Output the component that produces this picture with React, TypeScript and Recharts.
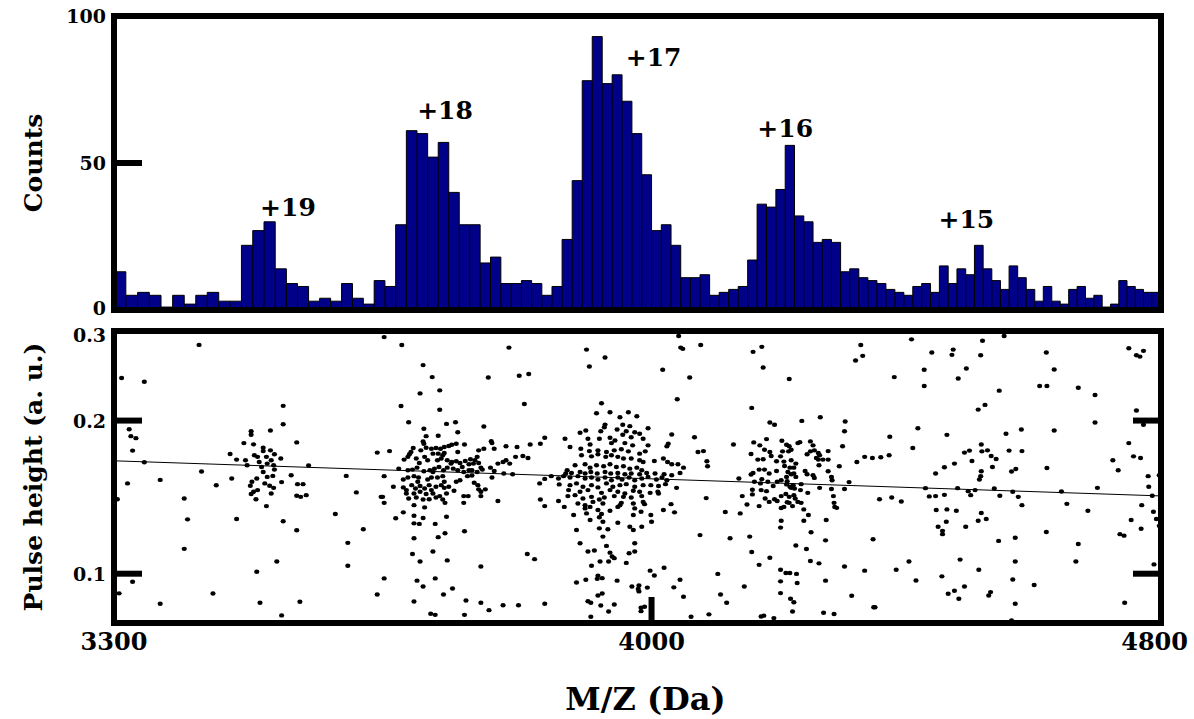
import { ComposedChart, Scatter, Line, Area, XAxis, YAxis, ReferenceArea, ReferenceDot, ReferenceLine } from "recharts"

const FONT = "'DejaVu Serif', serif"
const NAVY = "#000088"

// histogram: 14 Da bins starting at 3300
const BIN_START = 3300
const BIN_WIDTH = 14
const counts = [
  13, 5, 6, 5, 1, 5, 2, 5, 6, 3, 3, 22, 27, 30, 14, 9, 8, 3, 4, 3,
  9, 4, 2, 10, 8, 29, 61, 60, 52, 57, 40, 29, 29, 16, 18, 9, 9, 10, 9, 5,
  8, 24, 44, 78, 93, 77, 80, 71, 60, 46, 27, 29, 22, 11, 11, 12, 5, 6, 7, 8,
  17, 36, 35, 41, 56, 32, 30, 23, 24, 23, 13, 14, 11, 10, 9, 7, 6, 5, 8, 9,
  6, 15, 9, 14, 12, 22, 14, 10, 7, 15, 11, 7, 3, 8, 3, 2, 7, 8, 4, 5,
  1, 2, 10, 8, 7, 6, 6, 8,
]

const peakNames = ["+19", "+18", "+17", "+16", "+15"]
const peakNameMz = [3512, 3715, 4003, 4196, 4477]
const peakNameCount = [35, 68, 86, 62, 31]

const mzTicks = [3300, 4000, 4800]
const countTicks = [0, 50, 100]
const pulseTicks = [0.1, 0.2, 0.3]

// straight fit through the pulse heights
const fitEnds: [number, number][] = [[3300, 0.1667], [4800, 0.1422]]

// single hits: [m/z, pulse height]
const hitsBelow3640: [number, number][] = [
  [3402,0.2817],[3309,0.2425],[3336,0.2384],[3506,0.2138],[3506,0.1967],[3318,0.1923],[3320,0.1864],[3326,0.1847],[3322,0.1746],[3336,0.1656],
  [3466,0.1906],[3466,0.1876],[3490,0.1912],[3457,0.1806],[3469,0.1796],[3523,0.1812],[3440,0.1719],[3448,0.1676],[3459,0.1671],[3481,0.1769],
  [3481,0.1742],[3490,0.1748],[3495,0.1717],[3470,0.1710],[3474,0.1697],[3503,0.1684],[3485,0.1697],[3491,0.1671],[3476,0.1658],[3486,0.1646],
  [3494,0.1634],[3461,0.1634],[3479,0.1621],[3495,0.1602],[3481,0.1585],[3493,0.1557],[3486,0.1550],[3516,0.1562],[3538,0.1632],[3405,0.1588],
  [3355,0.1529],[3316,0.1505],[3423,0.1492],[3442,0.1539],[3467,0.1516],[3473,0.1539],[3465,0.1489],[3483,0.1505],[3489,0.1489],[3494,0.1475],
  [3504,0.1514],[3524,0.1500],[3531,0.1500],[3474,0.1460],[3469,0.1449],[3466,0.1434],[3472,0.1401],[3491,0.1438],[3523,0.1423],[3528,0.1416],
  [3535,0.1427],[3485,0.1358],[3384,0.1406],[3304,0.1401],[3388,0.1279],[3448,0.1281],[3506,0.1268],[3523,0.1217],[3384,0.1119],[3498,0.1057],
  [3473,0.1009],[3322,0.0964],[3306,0.0915],[3419,0.0914],[3477,0.0877],[3527,0.0881],[3355,0.0873],[3504,0.0828],[3572,0.1310],[3586,0.1557],
  [3599,0.1445],[3608,0.1223],[3588,0.1150],[3588,0.1037],[3626,0.1730],[3631,0.1416],[3626,0.0910],
]

const hitsPeak18: [number, number][] = [
  [3635,0.2918],[3658,0.2816],[3686,0.2571],[3698,0.2435],[3708,0.2293],[3801,0.2783],[3773,0.2431],[3815,0.2450],[3828,0.2469],
  [3682,0.2262],[3657,0.2137],[3708,0.2100],[3822,0.2156],[3667,0.1985],[3687,0.1927],[3717,0.1970],[3729,0.1985],[3732,0.1897],[3767,0.1947],
  [3690,0.1864],[3706,0.1867],[3686,0.1820],[3687,0.1801],[3642,0.1742],[3673,0.1766],[3670,0.1735],[3668,0.1717],[3683,0.1748],[3690,0.1769],
  [3697,0.1761],[3703,0.1766],[3709,0.1761],[3714,0.1774],[3720,0.1782],[3724,0.1793],[3730,0.1801],[3741,0.1795],[3732,0.1735],[3760,0.1748],
  [3767,0.1761],[3777,0.1822],[3778,0.1806],[3797,0.1780],[3812,0.1774],[3830,0.1795],[3844,0.1801],[3850,0.1850],[3781,0.1761],[3661,0.1676],
  [3666,0.1697],[3677,0.1684],[3688,0.1697],[3692,0.1671],[3681,0.1651],[3699,0.1722],[3706,0.1722],[3712,0.1709],[3714,0.1727],[3705,0.1671],
  [3710,0.1684],[3718,0.1671],[3724,0.1658],[3730,0.1664],[3735,0.1651],[3742,0.1666],[3749,0.1679],[3755,0.1671],[3747,0.1641],[3753,0.1646],
  [3758,0.1697],[3760,0.1651],[3763,0.1616],[3786,0.1646],[3793,0.1658],[3797,0.1671],[3802,0.1646],[3810,0.1697],[3820,0.1704],[3827,0.1688],
  [3776,0.1616],[3781,0.1592],[3654,0.1609],[3666,0.1597],[3672,0.1602],[3678,0.1616],[3687,0.1590],[3695,0.1597],[3699,0.1585],[3701,0.1609],
  [3707,0.1621],[3713,0.1597],[3718,0.1616],[3723,0.1646],[3726,0.1609],[3732,0.1597],[3738,0.1621],[3740,0.1585],[3747,0.1597],[3751,0.1597],
  [3758,0.1585],[3765,0.1602],[3794,0.1574],[3806,0.1569],[3635,0.1555],[3660,0.1532],[3666,0.1546],[3674,0.1555],[3680,0.1546],[3679,0.1516],
  [3692,0.1532],[3697,0.1546],[3705,0.1546],[3712,0.1555],[3714,0.1516],[3730,0.1516],[3735,0.1527],[3778,0.1546],[3745,0.1555],[3751,0.1560],
  [3850,0.1536],[3843,0.1505],[3647,0.1482],[3660,0.1478],[3664,0.1460],[3671,0.1493],[3676,0.1471],[3682,0.1487],[3688,0.1471],[3694,0.1493],
  [3697,0.1460],[3703,0.1482],[3710,0.1493],[3714,0.1475],[3720,0.1482],[3727,0.1456],[3754,0.1509],[3759,0.1493],[3760,0.1465],[3763,0.1449],
  [3769,0.1465],[3664,0.1438],[3674,0.1438],[3682,0.1449],[3690,0.1434],[3699,0.1438],[3708,0.1421],[3717,0.1438],[3740,0.1421],[3746,0.1421],
  [3633,0.1416],[3635,0.1378],[3667,0.1406],[3677,0.1412],[3686,0.1399],[3694,0.1401],[3703,0.1412],[3712,0.1399],[3715,0.1378],[3740,0.1378],
  [3763,0.1421],[3786,0.1390],[3844,0.1399],[3850,0.1358],[3674,0.1364],[3688,0.1350],[3660,0.1320],[3650,0.1285],[3674,0.1300],[3686,0.1287],
  [3674,0.1256],[3681,0.1253],[3702,0.1253],[3717,0.1294],[3674,0.1174],[3706,0.1180],[3715,0.1201],[3741,0.1212],
  [3672,0.1093],[3682,0.1057],[3699,0.1106],[3718,0.1062],[3763,0.1033],[3826,0.1093],[3836,0.1068],[3635,0.0979],[3678,0.0969],[3686,0.0944],
  [3702,0.0979],[3725,0.0935],[3713,0.0910],[3674,0.0882],[3743,0.0886],[3763,0.0877],[3774,0.0848],[3793,0.0867],[3814,0.0867],[3850,0.0873],
  [3696,0.0834],[3702,0.0830],[3741,0.0830],
]

const hitsPeak17: [number, number][] = [
  [3908,0.2758],[3934,0.2661],[3912,0.2555],[4039,0.2932],[4042,0.2783],[4045,0.2767],[4071,0.2816],[4016,0.2517],[4055,0.2431],
  [4037,0.2202],[3929,0.2163],[3922,0.2068],[3941,0.2077],[3955,0.2031],[3967,0.2077],[3979,0.2040],[3934,0.1964],[3933,0.1941],[3959,0.1962],
  [3969,0.1950],[3995,0.1932],[3899,0.1893],[3907,0.1912],[3928,0.1906],[3951,0.1921],[3964,0.1906],[3976,0.1897],[3959,0.1876],[3971,0.1855],
  [3983,0.1884],[3988,0.1842],[4029,0.1878],[3910,0.1842],[3926,0.1842],[3941,0.1850],[3878,0.1842],[3913,0.1795],[3943,0.1806],[3948,0.1828],
  [3962,0.1806],[3973,0.1788],[3995,0.1788],[4024,0.1801],[4022,0.1780],[4062,0.1855],[3885,0.1774],[3900,0.1761],[3912,0.1742],[3924,0.1748],
  [3936,0.1735],[3947,0.1748],[3957,0.1756],[3967,0.1740],[3983,0.1722],[3991,0.1740],[4067,0.1735],[3901,0.1709],[3915,0.1701],[3924,0.1717],
  [3935,0.1697],[3943,0.1709],[3952,0.1697],[3960,0.1684],[3971,0.1684],[3983,0.1671],[3988,0.1658],[4004,0.1666],[4017,0.1684],[4023,0.1658],
  [4029,0.1641],[4038,0.1641],[4046,0.1616],[3892,0.1634],[3906,0.1641],[3913,0.1616],[3922,0.1634],[3932,0.1626],[3941,0.1641],[3950,0.1621],
  [3960,0.1626],[3969,0.1609],[3979,0.1616],[3986,0.1597],[3881,0.1597],[3879,0.1574],[3887,0.1578],[3899,0.1585],[3906,0.1574],[3914,0.1585],
  [3923,0.1574],[3934,0.1585],[3942,0.1574],[3952,0.1578],[3962,0.1569],[3971,0.1574],[3983,0.1569],[3993,0.1578],[4005,0.1574],[4018,0.1569],
  [4029,0.1562],[4041,0.1578],[3859,0.1555],[3869,0.1539],[3876,0.1555],[3885,0.1546],[3896,0.1555],[3906,0.1539],[3915,0.1546],[3924,0.1532],
  [3934,0.1546],[3943,0.1527],[3952,0.1546],[3958,0.1532],[3968,0.1546],[3976,0.1527],[3986,0.1539],[3995,0.1550],[4007,0.1532],[4015,0.1546],
  [4022,0.1527],[3870,0.1498],[3885,0.1493],[3894,0.1505],[3903,0.1482],[3915,0.1493],[3924,0.1478],[3936,0.1505],[3945,0.1482],[3955,0.1493],
  [3964,0.1500],[3976,0.1482],[3988,0.1493],[3999,0.1493],[4010,0.1487],[4020,0.1500],[4036,0.1475],[3883,0.1460],[3899,0.1449],[3910,0.1460],
  [3929,0.1442],[3941,0.1460],[3952,0.1449],[3962,0.1438],[3974,0.1456],[3983,0.1449],[3998,0.1442],[4009,0.1449],[3882,0.1421],[3892,0.1427],
  [3903,0.1406],[3915,0.1416],[3926,0.1399],[3933,0.1412],[3947,0.1421],[3960,0.1416],[3971,0.1412],[3986,0.1421],[4010,0.1438],[3869,0.1390],
  [3896,0.1374],[3906,0.1364],[3917,0.1384],[3931,0.1374],[3957,0.1378],[3974,0.1374],[3988,0.1384],[3877,0.1353],[3906,0.1344],[3913,0.1353],
  [3924,0.1334],[3952,0.1353],[3976,0.1344],[3990,0.1370],[4028,0.1370],[3890,0.1304],[3908,0.1314],[3929,0.1310],[3941,0.1330],[3955,0.1364],
  [3913,0.1275],[3926,0.1291],[3931,0.1265],[3974,0.1304],[3985,0.1324],[3999,0.1304],[4017,0.1334],[4033,0.1320],[3894,0.1219],[3926,0.1228],
  [3938,0.1223],[3952,0.1259],[3969,0.1237],[3974,0.1219],[3986,0.1237],[4000,0.1265],[3899,0.1148],[3936,0.1134],[3931,0.1183],[3976,0.1148],
  [4070,0.1191],
  [3910,0.1106],[3919,0.1111],[3941,0.1100],[3944,0.1081],[3947,0.1073],[3968,0.1097],[3976,0.1106],[3927,0.1057],[3939,0.1057],[3964,0.1050],
  [3915,0.1037],[3998,0.1014],[4004,0.0992],[4018,0.1027],[3894,0.0961],[3907,0.0973],[3924,0.0991],[3923,0.0977],[3930,0.0980],[3951,0.0969],
  [3972,0.0944],[3982,0.0948],[3981,0.0933],[3982,0.0923],[3994,0.0939],[4041,0.0973],[4032,0.0940],[4046,0.0901],[3924,0.0906],[3930,0.0914],
  [3910,0.0883],[3914,0.0877],[3928,0.0866],[3947,0.0870],[3939,0.0843],[3985,0.0857],[3990,0.0861],[3985,0.0844],[3914,0.0823],[4057,0.0823],
  [4083,0.0832],
]

const hitsPeak16: [number, number][] = [
  [4148,0.2730],[4161,0.2792],[4163,0.2543],[4202,0.2414],[4311,0.2816],[4314,0.2681],[4303,0.2625],[4363,0.2435],
  [4146,0.2118],[4173,0.1982],[4180,0.1962],[4221,0.1997],[4249,0.2031],[4287,0.1991],[4286,0.1906],[4283,0.1780],[4119,0.1795],[4075,0.1742],
  [4080,0.1664],[4081,0.1626],[4149,0.1812],[4158,0.1788],[4168,0.1839],[4165,0.1753],[4173,0.1735],[4175,0.1704],[4145,0.1719],[4155,0.1676],
  [4163,0.1679],[4191,0.1826],[4198,0.1793],[4202,0.1780],[4205,0.1753],[4201,0.1740],[4192,0.1740],[4189,0.1701],[4183,0.1664],[4194,0.1661],
  [4215,0.1806],[4218,0.1814],[4234,0.1820],[4238,0.1788],[4240,0.1748],[4234,0.1740],[4229,0.1717],[4246,0.1727],[4248,0.1709],[4243,0.1688],
  [4246,0.1676],[4261,0.1742],[4253,0.1676],[4261,0.1676],[4205,0.1671],[4212,0.1646],[4203,0.1616],[4209,0.1616],[4195,0.1628],[4165,0.1602],
  [4157,0.1602],[4148,0.1578],[4145,0.1567],[4172,0.1574],[4183,0.1592],[4200,0.1585],[4205,0.1569],[4198,0.1550],[4209,0.1574],[4212,0.1550],
  [4226,0.1592],[4229,0.1569],[4238,0.1562],[4240,0.1543],[4247,0.1634],[4261,0.1590],[4266,0.1550],[4267,0.1527],[4278,0.1626],[4293,0.1514],
  [4127,0.1539],[4150,0.1516],[4161,0.1534],[4159,0.1505],[4170,0.1516],[4178,0.1487],[4184,0.1516],[4190,0.1527],[4199,0.1520],[4198,0.1498],
  [4203,0.1482],[4208,0.1493],[4205,0.1475],[4210,0.1471],[4220,0.1500],[4219,0.1460],[4230,0.1442],[4248,0.1475],[4266,0.1467],[4286,0.1467],
  [4147,0.1462],[4147,0.1432],[4160,0.1460],[4168,0.1453],[4132,0.1421],[4079,0.1408],[4166,0.1406],[4172,0.1384],[4180,0.1401],[4184,0.1390],
  [4190,0.1421],[4197,0.1434],[4202,0.1416],[4209,0.1427],[4211,0.1406],[4199,0.1382],[4202,0.1378],[4194,0.1353],[4190,0.1346],[4207,0.1358],
  [4215,0.1384],[4220,0.1378],[4224,0.1338],[4231,0.1304],[4269,0.1421],[4270,0.1378],[4271,0.1353],[4274,0.1347],[4139,0.1368],[4157,0.1358],
  [4107,0.1322],[4129,0.1314],[4190,0.1271],[4189,0.1232],[4224,0.1271],[4258,0.1275],[4235,0.1206],[4114,0.1174],[4143,0.1183],[4212,0.1136],
  [4228,0.1118],[4257,0.1163],[4330,0.1169],[4340,0.1401],[4305,0.1658],[4317,0.1697],[4329,0.1688],[4342,0.1694],
  [4096,0.0999],[4135,0.0944],[4100,0.0910],[4109,0.0877],[4146,0.1103],[4157,0.1041],[4173,0.1075],[4189,0.1018],[4197,0.1003],[4203,0.1003],
  [4213,0.0999],[4189,0.0966],[4214,0.0959],[4257,0.0969],[4286,0.1033],[4317,0.1014],[4189,0.0916],[4204,0.0893],[4209,0.0879],[4207,0.0843],
  [4254,0.0838],[4270,0.0833],[4297,0.0905],[4331,0.0859],[4333,0.0859],[4160,0.0824],[4164,0.0827],[4179,0.0818],[4234,0.1059],[4247,0.1048],
]

const hitsAbove4350: [number, number][] = [
  [4390,0.2889],[4422,0.2721],[4456,0.2758],[4454,0.2693],[4503,0.2871],[4500,0.2689],[4538,0.2932],[4410,0.2517],[4410,0.2339],[4477,0.2532],
  [4464,0.2420],[4530,0.2290],[4496,0.2102],[4507,0.2147],[4607,0.2721],[4620,0.2520],[4596,0.2339],[4608,0.2339],[4660,0.2321],[4688,0.2245],
  [4745,0.2775],[4758,0.2689],[4764,0.2672],[4770,0.2742],[4758,0.2093],[4770,0.1962],[4688,0.1982],[4620,0.1912],[4566,0.1921],[4541,0.1884],
  [4446,0.1875],[4400,0.1932],[4356,0.1859],[4355,0.1709],[4392,0.1766],[4474,0.1730],[4482,0.1746],[4501,0.1795],[4502,0.1740],[4511,0.1748],
  [4486,0.1666],[4517,0.1704],[4525,0.1681],[4546,0.1746],[4567,0.1742],[4442,0.1619],[4458,0.1646],[4428,0.1574],[4501,0.1590],[4500,0.1555],
  [4498,0.1532],[4519,0.1621],[4550,0.1588],[4557,0.1606],[4608,0.1614],[4718,0.1671],[4727,0.1597],[4745,0.1806],[4753,0.1701],[4765,0.1688],
  [4778,0.1555],[4797,0.1562],[4779,0.1482],[4692,0.1475],[4632,0.1451],[4412,0.1473],[4463,0.1473],[4480,0.1453],[4484,0.1427],[4491,0.1460],
  [4522,0.1471],[4552,0.1449],[4561,0.1416],[4531,0.1423],[4418,0.1419],[4428,0.1421],[4442,0.1429],[4359,0.1412],[4374,0.1387],[4567,0.1364],
  [4641,0.1372],[4676,0.1330],[4767,0.1364],[4785,0.1423],[4787,0.1324],[4792,0.1281],[4797,0.1242],[4749,0.1275],[4766,0.1226],[4429,0.1334],
  [4446,0.1338],[4461,0.1330],[4501,0.1316],[4496,0.1271],[4509,0.1281],[4445,0.1265],[4432,0.1237],[4439,0.1214],[4439,0.1196],[4476,0.1237],
  [4529,0.1160],[4556,0.1177],[4607,0.1208],[4660,0.1144],[4730,0.1196],[4737,0.1188],[4467,0.1066],[4497,0.1018],[4556,0.1057],[4656,0.1057],
  [4386,0.1057],[4366,0.1018],[4397,0.0970],[4438,0.0988],[4552,0.0974],[4587,0.0950],[4474,0.0944],[4458,0.0926],[4448,0.0913],[4465,0.0893],
  [4516,0.0920],[4513,0.0906],[4556,0.0873],[4788,0.1043],[4738,0.0877],[4550,0.0809],
]

// step outline: each bin edge carries the count of the bin that starts there
const binEdges = counts.map((_, i) => BIN_START + i * BIN_WIDTH)
const histData = [
  ...counts.map((c, i) => ({ mz: binEdges[i], count: c })),
  { mz: BIN_START + counts.length * BIN_WIDTH, count: counts[counts.length - 1] },
]

const hits = [...hitsBelow3640, ...hitsPeak18, ...hitsPeak17, ...hitsPeak16, ...hitsAbove4350].map(([mz, ph]) => ({ mz, ph }))
const fitData = fitEnds.map(([mz, ph]) => ({ mz, ph }))

const textStyle = { fontFamily: FONT, fontWeight: "bold" as const, fill: "#000" }

// labels sitting on the frame corners are nudged apart a little
function makeLeftTick(marked: number[], fmt: (v: number) => string, nudge: Record<string, number> = {}) {
  return function LeftTick(props: any) {
    const { x, y, payload } = props
    const v = payload.value
    const dy = nudge[String(v)] ?? 0
    return (
      <g>
        <text x={x - 8} y={y + dy} textAnchor="end" dominantBaseline="central" fontSize={19} {...textStyle}>{fmt(v)}</text>
        {marked.includes(v) && <line x1={x} x2={x + 28} y1={y} y2={y} stroke="#000" strokeWidth={6} />}
      </g>
    )
  }
}

function makeRightTick(marked: number[]) {
  return function RightTick(props: any) {
    const { x, y, payload } = props
    if (!marked.includes(payload.value)) return <g />
    return <line x1={x - 28} x2={x} y1={y} y2={y} stroke="#000" strokeWidth={6} />
  }
}

function MzTick(props: any) {
  const { x, y, payload } = props
  const v = payload.value
  const last = v === mzTicks[mzTicks.length - 1]
  return (
    <g>
      <text x={last ? x + 27 : x} y={y + 18} textAnchor={last ? "end" : "middle"} dominantBaseline="central" fontSize={24} {...textStyle}>{v}</text>
      {v === 4000 && <line x1={x} x2={x} y1={y - 26} y2={y} stroke="#000" strokeWidth={6} />}
    </g>
  )
}

function TopMzTick(props: any) {
  const { x, y, payload } = props
  if (payload.value !== 4000) return <g />
  return <line x1={x} x2={x} y1={y} y2={y + 26} stroke="#000" strokeWidth={6} />
}

function rotatedTitle(title: string) {
  return function Title(props: any) {
    const vb = props.viewBox
    const cx = vb.x - 21
    const cy = vb.y + vb.height / 2
    return (
      <text x={cx} y={cy} transform={`rotate(-90 ${cx} ${cy})`} textAnchor="middle" dominantBaseline="central" fontSize={25} {...textStyle}>
        {title}
      </text>
    )
  }
}

function MzTitle(props: any) {
  const vb = props.viewBox
  return (
    <text x={vb.x + vb.width / 2 + 8} y={vb.y + vb.height} textAnchor="middle" fontSize={32} {...textStyle}>M/Z (Da)</text>
  )
}

function HitDot(props: any) {
  return <ellipse cx={props.cx} cy={props.cy} rx={2.6} ry={2.2} fill="#000" />
}

export default function App() {
  return (
    <div style={{ position: "absolute", left: 0, top: 0, width: 1194, height: 719, background: "#fff" }}>
      <div style={{ position: "absolute", left: 0, top: 0 }}>
        <ComposedChart width={1194} height={330} data={histData} margin={{ top: 16, right: 31, bottom: 20, left: 54 }}>
          <XAxis type="number" dataKey="mz" scale="log" domain={[3300, 4800]} allowDataOverflow hide />
          <YAxis
            type="number"
            domain={[0, 100]}
            ticks={countTicks}
            width={60}
            axisLine={false}
            tickLine={false}
            tickSize={0}
            tickMargin={0}
            tick={makeLeftTick([50], (v) => String(v), { "0": -2 })}
            label={rotatedTitle("Counts")}
          />
          <YAxis yAxisId="right" orientation="right" type="number" domain={[0, 100]} ticks={[50]} width={2}
            axisLine={false} tickLine={false} tickSize={0} tickMargin={0} tick={makeRightTick([50])} />
          <Area
            type="stepAfter"
            dataKey="count"
            fill={NAVY}
            fillOpacity={1}
            stroke="#000"
            strokeWidth={1}
            isAnimationActive={false}
          />
          {binEdges.slice(1).map((e, i) => (
            <ReferenceLine
              key={e}
              segment={[{ x: e, y: 0 }, { x: e, y: Math.min(counts[i], counts[i + 1]) }]}
              stroke="#000"
              strokeWidth={1}
            />
          ))}
          {peakNames.map((name, i) => (
            <ReferenceDot
              key={name}
              x={peakNameMz[i]}
              y={peakNameCount[i]}
              r={0}
              fill="none"
              stroke="none"
              label={{ value: name, position: "center", fontSize: 25, fontFamily: FONT, fontWeight: "bold", fill: "#000" }}
            />
          ))}
          <ReferenceArea x1={3300} x2={4800} y1={0} y2={100} fill="none" stroke="#000" strokeWidth={6} />
        </ComposedChart>
      </div>
      <div style={{ position: "absolute", left: 0, top: 0 }}>
        <ComposedChart width={1194} height={719} margin={{ top: 331, right: 31, bottom: 9, left: 54 }}>
          <XAxis
            type="number"
            dataKey="mz"
            scale="log"
            domain={[3300, 4800]}
            allowDataOverflow
            ticks={mzTicks}
            height={87}
            axisLine={false}
            tickLine={false}
            tickSize={0}
            tickMargin={0}
            tick={MzTick}
            label={MzTitle}
          />
          <XAxis xAxisId="top" orientation="top" type="number" scale="log" domain={[3300, 4800]} allowDataOverflow
            ticks={[4000]} height={0} axisLine={false} tickLine={false} tickSize={0} tickMargin={0} tick={TopMzTick} />
          <YAxis
            type="number"
            dataKey="ph"
            scale="log"
            domain={[0.08, 0.3]}
            allowDataOverflow
            ticks={pulseTicks}
            width={60}
            axisLine={false}
            tickLine={false}
            tickSize={0}
            tickMargin={0}
            tick={makeLeftTick([0.1, 0.2], (v) => v.toFixed(1), { "0.3": 4 })}
            label={rotatedTitle("Pulse height (a. u.)")}
          />
          <YAxis yAxisId="right" orientation="right" type="number" scale="log" domain={[0.08, 0.3]} allowDataOverflow
            ticks={[0.1, 0.2]} width={2} axisLine={false} tickLine={false} tickSize={0} tickMargin={0} tick={makeRightTick([0.1, 0.2])} />
          <Scatter data={hits} dataKey="ph" shape={HitDot} isAnimationActive={false} />
          <Line data={fitData} dataKey="ph" type="linear" stroke="#000" strokeWidth={1} dot={false} isAnimationActive={false} />
          <ReferenceArea x1={3300} x2={4800} y1={0.08} y2={0.3} fill="none" stroke="#000" strokeWidth={6} />
        </ComposedChart>
      </div>
    </div>
  )
}
